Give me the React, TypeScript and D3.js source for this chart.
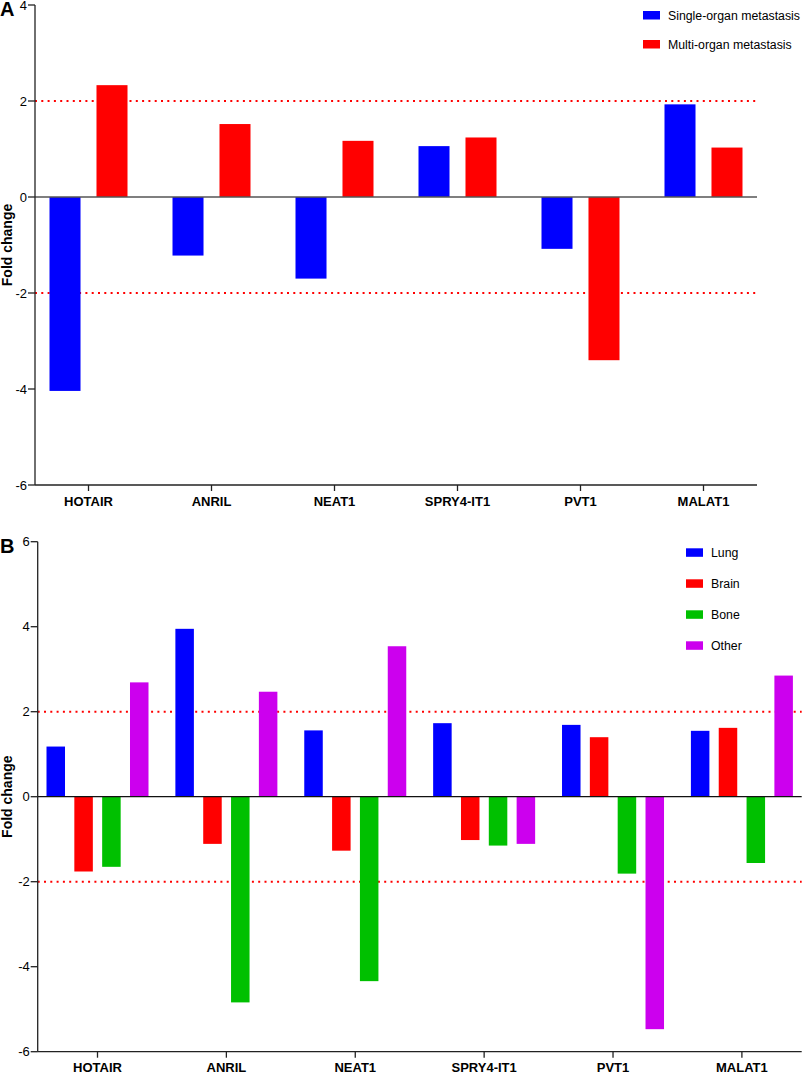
import React from "react";
import * as d3 from "d3";

const genes = ["HOTAIR", "ANRIL", "NEAT1", "SPRY4-IT1", "PVT1", "MALAT1"];

// panel A
const seriesA = ["Single-organ metastasis", "Multi-organ metastasis"];
const colorsA = ["#0000ff", "#ff0000"];
const singleOrgan = [-4.04, -1.22, -1.7, 1.06, -1.08, 1.93];
const multiOrgan = [2.33, 1.52, 1.17, 1.24, -3.4, 1.03];
const ticksA = [4, 2, 0, -2, -4, -6];

// panel B
const seriesB = ["Lung", "Brain", "Bone", "Other"];
const colorsB = ["#0000ff", "#ff0000", "#00c000", "#cc00ee"];
const lung = [1.18, 3.95, 1.56, 1.73, 1.69, 1.55];
const brain = [-1.76, -1.11, -1.27, -1.02, 1.4, 1.62];
const bone = [-1.65, -4.84, -4.34, -1.15, -1.81, -1.56];
const other = [2.69, 2.47, 3.54, -1.11, -5.47, 2.85];
const ticksB = [6, 4, 2, 0, -2, -4, -6];

const cutoffs = [2, -2];

const font = "Arial, 'Liberation Sans', sans-serif";

type PanelProps = {
  letter: string;
  series: string[];
  colors: string[];
  values: number[][];
  ticks: number[];
  xRange: [number, number];
  xPad: number;
  yDomain: [number, number];
  yRange: [number, number];
  groupHalf: number;
  innerPad: number;
  zeroColor: string;
  legendX: number;
  legendY: number;
  legendStep: number;
};

function Panel(p: PanelProps) {
  const x = d3.scalePoint<string>().domain(genes).range(p.xRange).padding(p.xPad);
  const y = d3.scaleLinear().domain(p.yDomain).range(p.yRange);
  const sub = d3
    .scaleBand<string>()
    .domain(p.series)
    .range([-p.groupHalf, p.groupHalf])
    .paddingInner(p.innerPad);

  const [x0, x1] = p.xRange;
  const yBottom = y(p.yDomain[0]);
  const yTop = y(p.yDomain[1]);
  const yMid = (yBottom + yTop) / 2;

  return (
    <g fontFamily={font}>
      <text x={0} y={yTop + 11} fontSize={20} fontWeight="bold">
        {p.letter}
      </text>

      {/* cut-off lines, under the bars */}
      {cutoffs.map((c) => (
        <line
          key={c}
          x1={x0}
          x2={x1}
          y1={y(c)}
          y2={y(c)}
          stroke="#ff0000"
          strokeWidth={2}
          strokeDasharray="2,4.3"
        />
      ))}

      {p.series.map((s, si) =>
        genes.map((g, gi) => {
          const v = p.values[si][gi];
          return (
            <rect
              key={s + g}
              x={(x(g) as number) + (sub(s) as number)}
              width={sub.bandwidth()}
              y={y(Math.max(0, v))}
              height={Math.abs(y(v) - y(0))}
              fill={p.colors[si]}
            />
          );
        })
      )}

      <line x1={x0} x2={x1} y1={y(0)} y2={y(0)} stroke={p.zeroColor} strokeWidth={1.3} />

      {/* y axis */}
      <line x1={x0} x2={x0} y1={yTop} y2={yBottom} stroke="#222" strokeWidth={1.3} />
      {p.ticks.map((t) => (
        <g key={t}>
          <line x1={x0 - 7} x2={x0} y1={y(t)} y2={y(t)} stroke="#222" strokeWidth={1.3} />
          <text x={x0 - 8} y={y(t) + 4.5} fontSize={13} textAnchor="end">
            {t}
          </text>
        </g>
      ))}
      <text
        transform={`translate(11.5,${yMid}) rotate(-90)`}
        fontSize={14}
        fontWeight="bold"
        textAnchor="middle"
      >
        Fold change
      </text>

      {/* x axis */}
      <line x1={x0} x2={x1} y1={yBottom} y2={yBottom} stroke="#222" strokeWidth={1.3} />
      {genes.map((g) => (
        <g key={g}>
          <line
            x1={x(g)}
            x2={x(g)}
            y1={yBottom}
            y2={yBottom + 6}
            stroke="#222"
            strokeWidth={1.3}
          />
          <text x={x(g)} y={yBottom + 20.5} fontSize={13} fontWeight="bold" textAnchor="middle">
            {g}
          </text>
        </g>
      ))}

      {/* legend */}
      {p.series.map((s, i) => (
        <g key={s} transform={`translate(${p.legendX},${p.legendY + i * p.legendStep})`}>
          <rect x={0} y={0} width={17} height={8.5} fill={p.colors[i]} />
          <text x={25} y={9} fontSize={12.3}>
            {s}
          </text>
        </g>
      ))}
    </g>
  );
}

export default function App() {
  return (
    <svg
      width={803}
      height={1072}
      style={{ position: "absolute", left: 0, top: 0, background: "#fff" }}
    >
      <Panel
        letter="A"
        series={seriesA}
        colors={colorsA}
        values={[singleOrgan, multiOrgan]}
        ticks={ticksA}
        xRange={[35, 757]}
        xPad={0.435}
        yDomain={[-6, 4]}
        yRange={[485, 5]}
        groupHalf={39}
        innerPad={0.34}
        zeroColor="#555"
        legendX={643}
        legendY={11}
        legendStep={29}
      />
      <Panel
        letter="B"
        series={seriesB}
        colors={colorsB}
        values={[lung, brain, bone, other]}
        ticks={ticksB}
        xRange={[37.7, 801.7]}
        xPad={0.464}
        yDomain={[-6, 6]}
        yRange={[1051.7, 541.7]}
        groupHalf={51}
        innerPad={0.335}
        zeroColor="#111"
        legendX={686}
        legendY={548.3}
        legendStep={31}
      />
    </svg>
  );
}
